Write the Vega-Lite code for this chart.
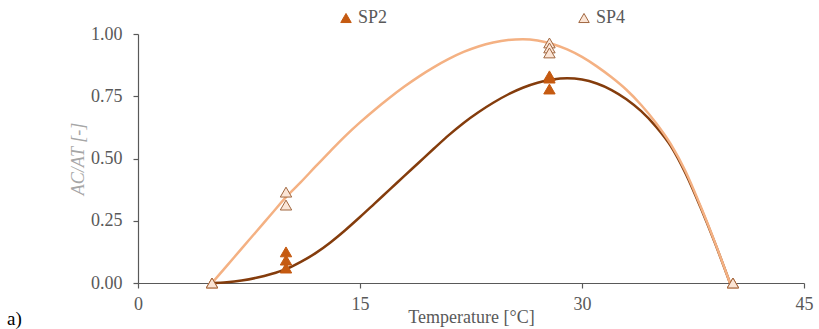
{
  "$schema": "https://vega.github.io/schema/vega-lite/v6.json",
  "width": 666,
  "height": 249,
  "autosize": {"type": "none"},
  "padding": {"left": 138, "top": 34, "right": 15, "bottom": 46},
  "background": "white",
  "config": {
    "view": {"stroke": null},
    "font": "Liberation Serif, Times New Roman, serif",
    "axis": {"grid": false, "domainColor": "#595959", "tickColor": "#595959", "labelColor": "#595959", "titleColor": "#595959", "labelFont": "Liberation Serif, Times New Roman, serif", "titleFont": "Liberation Serif, Times New Roman, serif", "labelFontSize": 18, "titleFontSize": 18, "titleFontWeight": "normal", "domainWidth": 1.2, "tickWidth": 1.2, "tickSize": 5},
    "legend": {"labelFont": "Liberation Serif, Times New Roman, serif", "labelFontSize": 18, "labelColor": "#595959", "orient": "none", "direction": "horizontal", "legendX": 199, "legendY": -25, "columnPadding": 187, "symbolSize": 110, "labelOffset": 3, "symbolStrokeWidth": 1}
  },
  "title": {"text": "a)", "orient": "bottom", "anchor": "start", "frame": "group", "dx": -131, "offset": -16, "fontSize": 19, "fontWeight": "normal", "color": "#000000", "font": "Liberation Serif, Times New Roman, serif"},
  "datasets": {
    "curves": [
      {"T": 5, "v": 0, "s": "SP2"}, {"T": 6, "v": 0.003, "s": "SP2"}, {"T": 7, "v": 0.01, "s": "SP2"}, {"T": 8, "v": 0.021, "s": "SP2"}, {"T": 9, "v": 0.036, "s": "SP2"}, {"T": 10, "v": 0.056, "s": "SP2"}, {"T": 11, "v": 0.085, "s": "SP2"}, {"T": 12, "v": 0.12, "s": "SP2"}, {"T": 13, "v": 0.163, "s": "SP2"}, {"T": 14, "v": 0.212, "s": "SP2"}, {"T": 15, "v": 0.265, "s": "SP2"}, {"T": 16, "v": 0.32, "s": "SP2"}, {"T": 17, "v": 0.375, "s": "SP2"}, {"T": 18, "v": 0.43, "s": "SP2"}, {"T": 19, "v": 0.485, "s": "SP2"}, {"T": 20, "v": 0.54, "s": "SP2"}, {"T": 21, "v": 0.594, "s": "SP2"}, {"T": 22, "v": 0.643, "s": "SP2"}, {"T": 23, "v": 0.686, "s": "SP2"}, {"T": 24, "v": 0.724, "s": "SP2"}, {"T": 25, "v": 0.757, "s": "SP2"}, {"T": 26, "v": 0.784, "s": "SP2"}, {"T": 27, "v": 0.804, "s": "SP2"}, {"T": 28, "v": 0.817, "s": "SP2"}, {"T": 29, "v": 0.822, "s": "SP2"}, {"T": 30, "v": 0.817, "s": "SP2"}, {"T": 31, "v": 0.801, "s": "SP2"}, {"T": 32, "v": 0.775, "s": "SP2"}, {"T": 33, "v": 0.738, "s": "SP2"}, {"T": 34, "v": 0.69, "s": "SP2"}, {"T": 35, "v": 0.628, "s": "SP2"}, {"T": 36, "v": 0.55, "s": "SP2"}, {"T": 37, "v": 0.44, "s": "SP2"}, {"T": 38, "v": 0.305, "s": "SP2"}, {"T": 39, "v": 0.158, "s": "SP2"}, {"T": 40, "v": 0, "s": "SP2"},
      {"T": 5, "v": 0, "s": "SP4"}, {"T": 6, "v": 0.069, "s": "SP4"}, {"T": 7, "v": 0.138, "s": "SP4"}, {"T": 8, "v": 0.207, "s": "SP4"}, {"T": 9, "v": 0.276, "s": "SP4"}, {"T": 10, "v": 0.345, "s": "SP4"}, {"T": 11, "v": 0.405, "s": "SP4"}, {"T": 12, "v": 0.468, "s": "SP4"}, {"T": 13, "v": 0.53, "s": "SP4"}, {"T": 14, "v": 0.59, "s": "SP4"}, {"T": 15, "v": 0.645, "s": "SP4"}, {"T": 16, "v": 0.696, "s": "SP4"}, {"T": 17, "v": 0.744, "s": "SP4"}, {"T": 18, "v": 0.789, "s": "SP4"}, {"T": 19, "v": 0.83, "s": "SP4"}, {"T": 20, "v": 0.867, "s": "SP4"}, {"T": 21, "v": 0.9, "s": "SP4"}, {"T": 22, "v": 0.928, "s": "SP4"}, {"T": 23, "v": 0.95, "s": "SP4"}, {"T": 24, "v": 0.966, "s": "SP4"}, {"T": 25, "v": 0.976, "s": "SP4"}, {"T": 26, "v": 0.979, "s": "SP4"}, {"T": 27, "v": 0.974, "s": "SP4"}, {"T": 28, "v": 0.96, "s": "SP4"}, {"T": 29, "v": 0.938, "s": "SP4"}, {"T": 30, "v": 0.908, "s": "SP4"}, {"T": 31, "v": 0.87, "s": "SP4"}, {"T": 32, "v": 0.826, "s": "SP4"}, {"T": 33, "v": 0.776, "s": "SP4"}, {"T": 34, "v": 0.715, "s": "SP4"}, {"T": 35, "v": 0.643, "s": "SP4"}, {"T": 36, "v": 0.558, "s": "SP4"}, {"T": 37, "v": 0.448, "s": "SP4"}, {"T": 38, "v": 0.31, "s": "SP4"}, {"T": 39, "v": 0.16, "s": "SP4"}, {"T": 40, "v": 0, "s": "SP4"}
    ],
    "points": [
      {"T": 5, "v": 0, "s": "SP2"}, {"T": 10, "v": 0.125, "s": "SP2"}, {"T": 10, "v": 0.092, "s": "SP2"}, {"T": 10, "v": 0.06, "s": "SP2"}, {"T": 27.8, "v": 0.832, "s": "SP2"}, {"T": 27.8, "v": 0.823, "s": "SP2"}, {"T": 27.8, "v": 0.779, "s": "SP2"}, {"T": 40.2, "v": 0, "s": "SP2"},
      {"T": 5, "v": 0, "s": "SP4"}, {"T": 10, "v": 0.365, "s": "SP4"}, {"T": 10, "v": 0.313, "s": "SP4"}, {"T": 27.8, "v": 0.964, "s": "SP4"}, {"T": 27.8, "v": 0.944, "s": "SP4"}, {"T": 27.8, "v": 0.924, "s": "SP4"}, {"T": 40.2, "v": 0, "s": "SP4"}
    ]
  },
  "layer": [
    {
      "data": {"name": "curves"},
      "mark": {"type": "line", "interpolate": "monotone", "strokeWidth": 2.5},
      "encoding": {
        "x": {"field": "T", "type": "quantitative", "scale": {"domain": [0, 45], "nice": false}, "axis": {"values": [0, 15, 30, 45], "title": "Temperature [°C]", "labelPadding": 7, "titlePadding": -5, "labelFlush": false}},
        "y": {"field": "v", "type": "quantitative", "scale": {"domain": [0, 1], "nice": false}, "axis": {"values": [0, 0.25, 0.5, 0.75, 1], "format": ".2f", "title": "AC/AT [-]", "titleFontStyle": "italic", "titleColor": "#a6a6a6", "labelPadding": 11, "titlePadding": 3}},
        "color": {"field": "s", "type": "nominal", "scale": {"domain": ["SP2", "SP4"], "range": ["#843c0c", "#f4b183"]}, "legend": null}
      }
    },
    {
      "data": {"name": "points"},
      "mark": {"type": "point", "shape": "triangle-up", "filled": true, "size": 130, "opacity": 1, "strokeWidth": 1},
      "encoding": {
        "x": {"field": "T", "type": "quantitative"},
        "y": {"field": "v", "type": "quantitative"},
        "fill": {"field": "s", "type": "nominal", "title": null, "scale": {"domain": ["SP2", "SP4"], "range": ["#c55a11", "#fbe5d6"]}, "legend": {"symbolType": "triangle-up"}},
        "stroke": {"field": "s", "type": "nominal", "title": null, "scale": {"domain": ["SP2", "SP4"], "range": ["#c55a11", "#a0663f"]}, "legend": {"symbolType": "triangle-up"}}
      }
    }
  ],
  "resolve": {"scale": {"color": "independent"}}
}
